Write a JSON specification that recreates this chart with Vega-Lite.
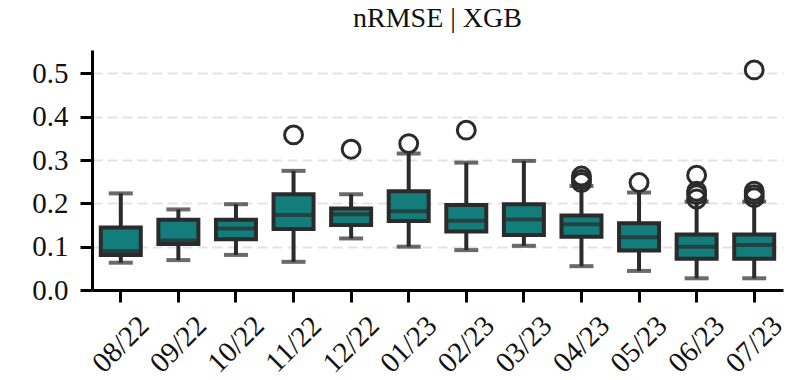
{
  "$schema": "https://vega.github.io/schema/vega-lite/v6.json",
  "autosize": "none",
  "width": 691,
  "height": 240,
  "padding": {"left": 92, "top": 50, "right": 4, "bottom": 90},
  "background": "white",
  "config": {
    "view": {"stroke": null},
    "font": "Liberation Serif",
    "axis": {
      "labelFont": "Liberation Serif",
      "labelFontSize": 29,
      "labelColor": "#111111",
      "domainColor": "#000000",
      "domainWidth": 3,
      "tickColor": "#000000",
      "tickWidth": 3,
      "tickSize": 12,
      "titleFontSize": 0
    }
  },
  "title": {
    "text": "nRMSE | XGB",
    "font": "Liberation Serif",
    "fontSize": 28,
    "fontWeight": "normal",
    "color": "#111111",
    "anchor": "middle",
    "baseline": "bottom",
    "offset": -11
  },
  "datasets": {
    "boxes": [
      {"month": "08/22", "lower": 0.063, "q1": 0.081, "median": 0.090, "q3": 0.144, "upper": 0.223},
      {"month": "09/22", "lower": 0.069, "q1": 0.106, "median": 0.114, "q3": 0.162, "upper": 0.186},
      {"month": "10/22", "lower": 0.081, "q1": 0.117, "median": 0.142, "q3": 0.162, "upper": 0.198},
      {"month": "11/22", "lower": 0.065, "q1": 0.141, "median": 0.173, "q3": 0.221, "upper": 0.275},
      {"month": "12/22", "lower": 0.119, "q1": 0.150, "median": 0.175, "q3": 0.188, "upper": 0.221},
      {"month": "01/23", "lower": 0.100, "q1": 0.159, "median": 0.182, "q3": 0.228, "upper": 0.315},
      {"month": "02/23", "lower": 0.092, "q1": 0.135, "median": 0.160, "q3": 0.196, "upper": 0.294},
      {"month": "03/23", "lower": 0.102, "q1": 0.127, "median": 0.163, "q3": 0.198, "upper": 0.298},
      {"month": "04/23", "lower": 0.055, "q1": 0.123, "median": 0.152, "q3": 0.172, "upper": 0.240},
      {"month": "05/23", "lower": 0.044, "q1": 0.091, "median": 0.122, "q3": 0.154, "upper": 0.225},
      {"month": "06/23", "lower": 0.027, "q1": 0.072, "median": 0.100, "q3": 0.128, "upper": 0.204},
      {"month": "07/23", "lower": 0.027, "q1": 0.072, "median": 0.104, "q3": 0.128, "upper": 0.204}
    ],
    "outliers": [
      {"month": "11/22", "value": 0.358},
      {"month": "12/22", "value": 0.325},
      {"month": "01/23", "value": 0.338},
      {"month": "02/23", "value": 0.369},
      {"month": "04/23", "value": 0.248},
      {"month": "04/23", "value": 0.255},
      {"month": "04/23", "value": 0.263},
      {"month": "05/23", "value": 0.248},
      {"month": "06/23", "value": 0.210},
      {"month": "06/23", "value": 0.220},
      {"month": "06/23", "value": 0.228},
      {"month": "06/23", "value": 0.265},
      {"month": "07/23", "value": 0.213},
      {"month": "07/23", "value": 0.220},
      {"month": "07/23", "value": 0.228},
      {"month": "07/23", "value": 0.508}
    ]
  },
  "encoding": {
    "x": {
      "field": "month",
      "type": "nominal",
      "sort": null,
      "scale": {"paddingInner": 0, "paddingOuter": 0},
      "axis": {
        "title": null,
        "labelAngle": -45,
        "labelAlign": "center",
        "labelBaseline": "middle",
        "labelPadding": 42,
        "labelFontSize": 29
      }
    }
  },
  "layer": [
    {
      "data": {"name": "boxes"},
      "mark": {"type": "rule", "color": "#2b2b2b", "strokeWidth": 4},
      "encoding": {
        "y": {
          "field": "lower",
          "type": "quantitative",
          "scale": {"domain": [0, 0.554], "nice": false, "zero": true},
          "axis": {
            "title": null,
            "values": [0, 0.1, 0.2, 0.3, 0.4, 0.5],
            "format": ".1f",
            "labelPadding": 12,
            "grid": true,
            "gridColor": "#e3e3e3",
            "gridWidth": 2,
            "gridDash": [10, 5]
          }
        },
        "y2": {"field": "upper"}
      }
    },
    {
      "data": {"name": "boxes"},
      "mark": {"type": "tick", "color": "#2b2b2b", "size": 24, "thickness": 4},
      "encoding": {"y": {"field": "lower", "type": "quantitative"}}
    },
    {
      "data": {"name": "boxes"},
      "mark": {"type": "tick", "color": "#2b2b2b", "size": 24, "thickness": 4},
      "encoding": {"y": {"field": "upper", "type": "quantitative"}}
    },
    {
      "data": {"name": "boxes"},
      "mark": {"type": "bar", "size": 40, "fill": "#127d7b", "stroke": "#2b2b2b", "strokeWidth": 4},
      "encoding": {
        "y": {"field": "q1", "type": "quantitative"},
        "y2": {"field": "q3"}
      }
    },
    {
      "data": {"name": "boxes"},
      "mark": {"type": "tick", "color": "#2b2b2b", "size": 40, "thickness": 4},
      "encoding": {"y": {"field": "median", "type": "quantitative"}}
    },
    {
      "data": {"name": "outliers"},
      "mark": {"type": "point", "shape": "circle", "filled": false, "stroke": "#2b2b2b", "strokeWidth": 3, "size": 320, "opacity": 1},
      "encoding": {"y": {"field": "value", "type": "quantitative"}}
    }
  ]
}
